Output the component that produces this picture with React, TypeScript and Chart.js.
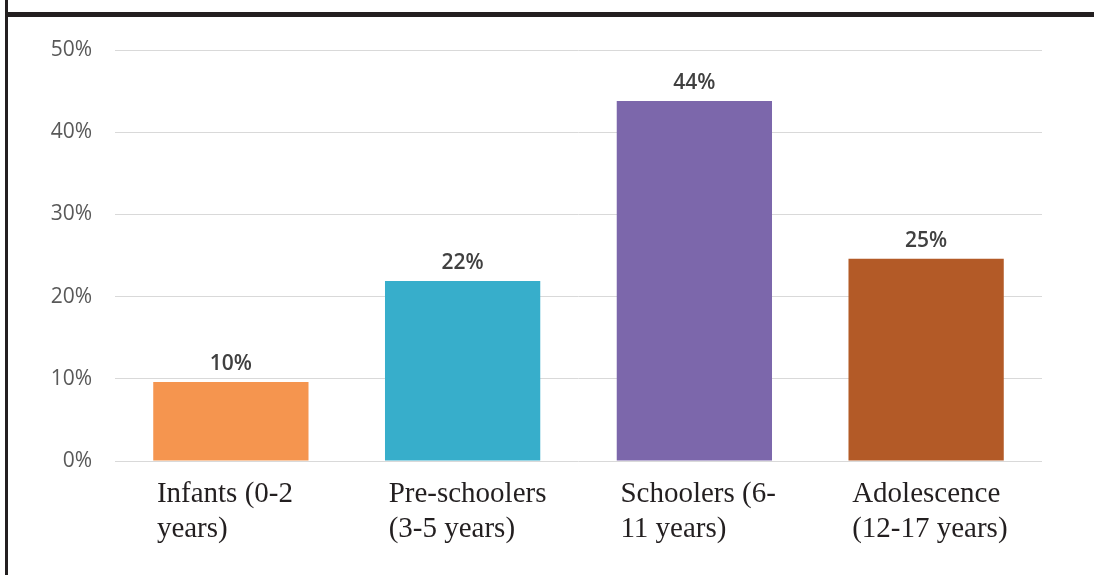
import React, { useEffect, useRef } from "react";
import { Chart, registerables } from "chart.js";

Chart.register(...registerables);

const categories: string[][] = [
  ["Infants (0-2", "years)"],
  ["Pre-schoolers", "(3-5 years)"],
  ["Schoolers (6-", "11 years)"],
  ["Adolescence", "(12-17 years)"],
];
const shares: number[] = [9.6, 21.9, 43.8, 24.6];
const shareLabels: string[] = ["10%", "22%", "44%", "25%"];
const barColors: string[] = ["#F5954F", "#37AECB", "#7C67AB", "#B35A27"];
const yMax = 50;
const yStep = 10;

const valueLabelPlugin = {
  id: "valueLabels",
  afterDatasetsDraw(chart: any) {
    const ctx = chart.ctx;
    const meta = chart.getDatasetMeta(0);
    ctx.save();
    ctx.font = "600 21px 'Open Sans'";
    ctx.fillStyle = "#404040";
    ctx.textAlign = "center";
    ctx.textBaseline = "middle";
    meta.data.forEach((bar: any, i: number) => {
      ctx.fillText(shareLabels[i], bar.x, bar.y - 18);
    });
    ctx.restore();
  },
};

export default function App() {
  const canvasRef = useRef<HTMLCanvasElement | null>(null);

  useEffect(() => {
    if (!canvasRef.current) return;
    const chart = new Chart(canvasRef.current, {
      type: "bar",
      data: {
        labels: categories,
        datasets: [
          {
            data: shares,
            backgroundColor: barColors,
            borderWidth: 0,
            barPercentage: 0.67,
            categoryPercentage: 1,
          },
        ],
      },
      options: {
        responsive: false,
        animation: false,
        layout: { padding: { top: 50, right: 52, bottom: 0, left: 0 } },
        plugins: {
          legend: { display: false },
          tooltip: { enabled: false },
        },
        scales: {
          x: {
            grid: { display: false, drawTicks: false },
            border: { display: false },
            afterFit(scale: any) {
              scale.height = 114;
              scale.paddingLeft = 0;
              scale.paddingRight = 0;
            },
            ticks: {
              autoSkip: false,
              maxRotation: 0,
              minRotation: 0,
              align: "start",
              labelOffset: -74,
              padding: 16,
              color: "#231F20",
              font: { family: "'Liberation Serif'", size: 29, lineHeight: 1.2 },
            },
          },
          y: {
            min: 0,
            max: yMax,
            grid: { color: "#D9D9D9", lineWidth: 1, drawTicks: false },
            border: { display: false },
            afterFit(scale: any) {
              scale.width = 115;
              scale.paddingTop = 0;
              scale.paddingBottom = 0;
            },
            ticks: {
              stepSize: yStep,
              padding: 23,
              color: "#595959",
              font: { family: "'Open Sans'", size: 21, weight: "500" },
              callback: (v: any) => v + "%",
            },
          },
        },
      },
      plugins: [valueLabelPlugin],
    });
    return () => chart.destroy();
  }, []);

  return (
    <div style={{ position: "absolute", left: 0, top: 0, width: 1094, height: 575, background: "#fff" }}>
      <canvas ref={canvasRef} width={1094} height={575} style={{ position: "absolute", left: 0, top: 0 }} />
      <div style={{ position: "absolute", left: 5, top: 0, width: 3, height: 575, background: "#231F20" }} />
      <div style={{ position: "absolute", left: 8, top: 12, width: 1086, height: 5, background: "#231F20" }} />
    </div>
  );
}
